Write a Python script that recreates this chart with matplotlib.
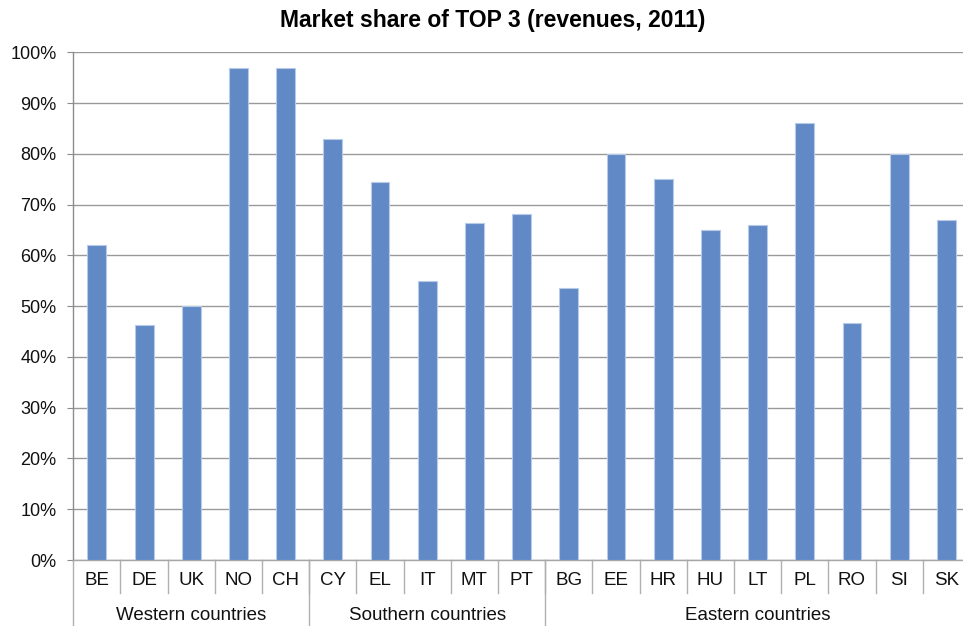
import matplotlib
matplotlib.use("Agg")
import matplotlib.pyplot as plt
from matplotlib.ticker import PercentFormatter

plt.rcParams['font.family'] = ['Liberation Sans', 'DejaVu Sans']

countries = ['BE', 'DE', 'UK', 'NO', 'CH',
             'CY', 'EL', 'IT', 'MT', 'PT',
             'BG', 'EE', 'HR', 'HU', 'LT', 'PL', 'RO', 'SI', 'SK']
share = [62, 46.3, 50, 97, 97,
         83, 74.4, 55, 66.3, 68.1,
         53.5, 80, 75, 65, 66, 86, 46.6, 80, 67]
groups = ['Western countries', 'Southern countries', 'Eastern countries']
group_sizes = [5, 5, 9]

fig = plt.figure(figsize=(9.63, 6.26), dpi=100)
ax = fig.add_axes([0.0761, 0.1054, 0.9311, 0.8111])

x = range(len(countries))
ax.bar(x, share, width=0.4, color='#6189c6', edgecolor='#b7cbe8', linewidth=0.8, zorder=3)

ax.set_xlim(-0.5, len(countries) - 0.5)
ax.set_ylim(0, 100)
ax.set_yticks(range(0, 101, 10))
ax.yaxis.set_major_formatter(PercentFormatter(decimals=0))
ax.grid(axis='y', color='#9a9a9a', linewidth=1.0, zorder=0)

for side in ['top', 'right']:
    ax.spines[side].set_visible(False)
ax.spines['left'].set_color('#8c8c8c')
ax.spines['bottom'].set_color('#a6a6a6')
ax.spines['left'].set_linewidth(1.0)
ax.spines['bottom'].set_linewidth(1.0)
ax.tick_params(axis='y', direction='out', length=4, color='#8c8c8c',
               labelsize=13, pad=8, labelcolor='#111111')
ax.set_xticks([])

# two-level category axis: country labels, then region groups
trans = ax.get_xaxis_transform()
for i, c in enumerate(countries):
    ax.text(i, -0.041, c, transform=trans, ha='center', va='center',
            fontsize=13.5, color='#111111')
    ax.plot([i + 0.5, i + 0.5], [0, -0.064], transform=trans, color='#b0b0b0',
            linewidth=1.0, clip_on=False)

start = -0.5
for g, n in zip(groups, group_sizes):
    ax.plot([start, start], [0, -0.2], transform=trans, color='#b0b0b0',
            linewidth=1.0, clip_on=False)
    ax.text(start + n / 2, -0.110, g, transform=trans, ha='center', va='center',
            fontsize=13.5, color='#111111')
    start += n

fig.text(0.512, 0.968, 'Market share of TOP 3 (revenues, 2011)', ha='center', va='center',
         fontsize=16.5, fontweight='bold')

fig.savefig('out.png', dpi=100)
